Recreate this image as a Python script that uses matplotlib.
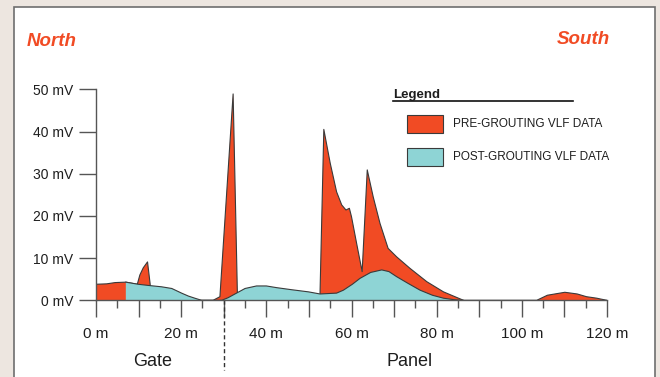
import matplotlib
matplotlib.use("Agg")
import matplotlib.pyplot as plt
from matplotlib.patches import Rectangle

plt.rcParams['font.family'] = ['Liberation Sans', 'DejaVu Sans']

# distance along survey line (m) and VLF response (mV)
pre_x = [0, 0, 2.5, 4.5, 7, 9.7, 10.3, 11.1, 12.1, 12.7, 13, 27.5, 29.1, 32.2, 33.2, 33.3,
         52.5, 52.6, 53.5, 55.0, 56.5, 57.7, 58.7, 59.5, 60.0, 61.2, 62.5, 63.7,
         65.1, 66.7, 68.6, 70.6, 73.7, 77.7, 81.6, 86.3,
         103.5, 106, 110.1, 113, 115.2, 117.6, 118.5, 120]
pre_y = [0, 3.8, 3.9, 4.2, 4.3, 3.8, 6.0, 7.7, 9.1, 4.0, 0, 0, 0.85, 48.9, 1.7, 0,
         0, 1.3, 40.5, 32.5, 25.7, 22.6, 21.4, 21.8, 19.8, 13.5, 6.8, 30.9,
         24.5, 18.2, 12.3, 10.3, 7.6, 4.4, 2.0, 0,
         0, 1.2, 1.9, 1.5, 0.85, 0.5, 0.3, 0]

post_x = [7, 7, 9.9, 12.5, 15.4, 17.8, 20.1, 21.7, 23.2, 24.8, 29.5, 31, 33, 35, 37.7,
          40, 42.4, 46, 49.9, 52.6, 56.5, 58.1, 60.2, 62.0, 64.5, 67.1,
          68.8, 70.6, 73.3, 76.1, 79.0, 81.6, 84, 86.3]
post_y = [0, 4.3, 3.8, 3.5, 3.2, 2.8, 1.7, 1.0, 0.5, 0, 0, 0.6, 1.7, 2.8, 3.4,
          3.4, 3.0, 2.5, 2.0, 1.5, 1.7, 2.4, 3.8, 5.2, 6.6, 7.2,
          6.8, 5.6, 4.0, 2.4, 1.2, 0.5, 0.15, 0]

y_ticks = [0, 10, 20, 30, 40, 50]
y_labels = [f"{v} mV" for v in y_ticks]
x_ticks = list(range(0, 121, 10))
x_labels = [f"{v} m" if v % 20 == 0 else "" for v in x_ticks]

RED = '#F14B24'
CYAN = '#8ED4D5'
EDGE = '#3a3a3a'
TXT = '#1e1e1e'
W, H = 660, 377


def fpx(x, y):
    # pixel position -> figure fraction
    return x / W, 1 - y / H


fig = plt.figure(figsize=(6.6, 3.77), dpi=100)
fig.patch.set_facecolor('#EDE6E0')
fig.patches.append(Rectangle(fpx(14, 400), 641 / W, 393 / H, transform=fig.transFigure,
                             facecolor='white', edgecolor='#6e6e6e', linewidth=1.2,
                             zorder=-5))

ax = fig.add_axes([96 / W, (H - 300.3) / H, 511 / W, 211 / H])
ax.set_zorder(2)
ax.set_xlim(0, 120)
ax.set_ylim(0, 50)
ax.patch.set_alpha(0)

ax.fill(pre_x, pre_y, color=RED, lw=0, zorder=2)
ax.plot(pre_x, pre_y, color=EDGE, lw=0.8, zorder=3)
ax.fill(post_x, post_y, color=CYAN, lw=0, zorder=4)
ax.plot(post_x[1:], post_y[1:], color=EDGE, lw=0.8, zorder=5)

for s in ['top', 'right']:
    ax.spines[s].set_visible(False)
for s in ['left', 'bottom']:
    ax.spines[s].set_color('#555555')
    ax.spines[s].set_linewidth(1)
    ax.spines[s].set_zorder(6)

ax.set_yticks(y_ticks)
ax.set_yticklabels(y_labels, fontsize=10, color=TXT)
ax.set_xticks(x_ticks)
ax.set_xticklabels(x_labels, fontsize=11, color=TXT)
ax.set_xticks(range(5, 120, 10), minor=True)
ax.tick_params(axis='y', length=12.2, width=1, color='#555555', pad=4)
ax.tick_params(axis='x', which='major', length=12.5, width=1, color='#555555', pad=7)
ax.tick_params(axis='x', which='minor', length=5.8, width=1, color='#555555')

# gate / panel divider
ax.plot([30, 30], [0, -16.6], color='#333333', lw=1, ls=(0, (3, 2)), clip_on=False)
ax.text(13.4, -14.6, 'Gate', fontsize=13, color=TXT, ha='center', va='center')
ax.text(73.7, -14.6, 'Panel', fontsize=13, color=TXT, ha='center', va='center')

# direction labels
fig.text(*fpx(27, 41), 'North', fontsize=13.5, fontweight='bold', fontstyle='italic',
         color=RED, ha='left', va='center')
fig.text(*fpx(610, 40), 'South', fontsize=13.5, fontweight='bold', fontstyle='italic',
         color=RED, ha='right', va='center')

# legend
fig.text(*fpx(393, 95), 'Legend', fontsize=9.5, fontweight='bold', color=TXT,
         ha='left', va='center')
fig.add_artist(plt.Line2D([393 / W, 573 / W], [1 - 100.5 / H] * 2, color='#111111', lw=1.2))
for y0, col, lab in [(115, RED, 'PRE-GROUTING VLF DATA'), (148, CYAN, 'POST-GROUTING VLF DATA')]:
    fig.patches.append(Rectangle(fpx(407, y0 + 18), 36 / W, 18 / H, transform=fig.transFigure,
                                 facecolor=col, edgecolor=EDGE, linewidth=0.8))
    fig.text(*fpx(453, y0 + 9), lab, fontsize=8.5, color=TXT, ha='left', va='center')

fig.savefig('out.png', dpi=100, facecolor=fig.get_facecolor())
